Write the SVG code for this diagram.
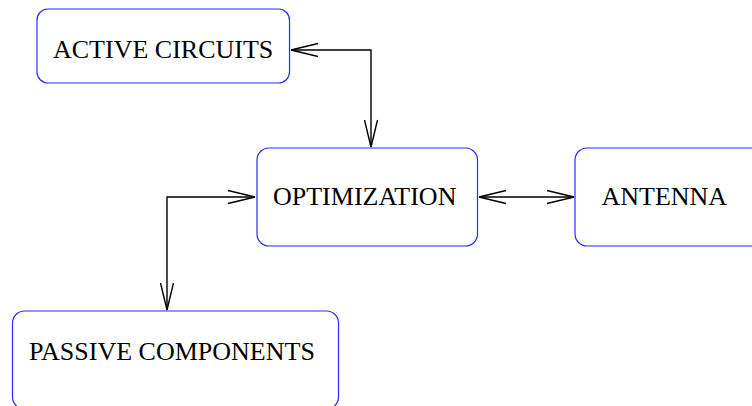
<svg xmlns="http://www.w3.org/2000/svg" width="752" height="406" viewBox="0 0 752 406">
  <style>
    .box { fill: #ffffff; stroke: #2a2aff; stroke-width: 1.2; }
    .label { font-family: "Liberation Serif", "Times New Roman", serif; font-size: 26px; fill: #000000; }
    .conn { fill: none; stroke: #000000; stroke-width: 1.4; marker-start: url(#head); marker-end: url(#head); }
  </style>
  <defs>
    <marker id="head" markerUnits="userSpaceOnUse" viewBox="-29 -8 31 16" markerWidth="31" markerHeight="16" refX="0" refY="0" orient="auto-start-reverse" overflow="visible">
      <path d="M -27 -6.5 L 0 0 L -27 6.5" fill="none" stroke="#000000" stroke-width="1.4"/>
    </marker>
  </defs>
  <rect width="752" height="406" fill="#ffffff"/>

  <g id="connectors">
    <path class="conn" d="M 291 50 H 371 V 147"/>
    <path class="conn" d="M 479 197 H 574"/>
    <path class="conn" d="M 255 197 H 167 V 310"/>
  </g>

  <g id="active-circuits">
    <rect class="box" x="37" y="9" width="252.5" height="74" rx="11"/>
    <text class="label" x="53" y="58">ACTIVE CIRCUITS</text>
  </g>

  <g id="optimization">
    <rect class="box" x="257" y="148" width="220.5" height="98" rx="12"/>
    <text class="label" x="273" y="205">OPTIMIZATION</text>
  </g>

  <g id="antenna">
    <rect class="box" x="575" y="148" width="200" height="98" rx="12"/>
    <text class="label" x="601.5" y="205">ANTENNA</text>
  </g>

  <g id="passive-components">
    <rect class="box" x="12.5" y="311" width="326" height="98" rx="12"/>
    <text class="label" x="29" y="360">PASSIVE COMPONENTS</text>
  </g>
</svg>
